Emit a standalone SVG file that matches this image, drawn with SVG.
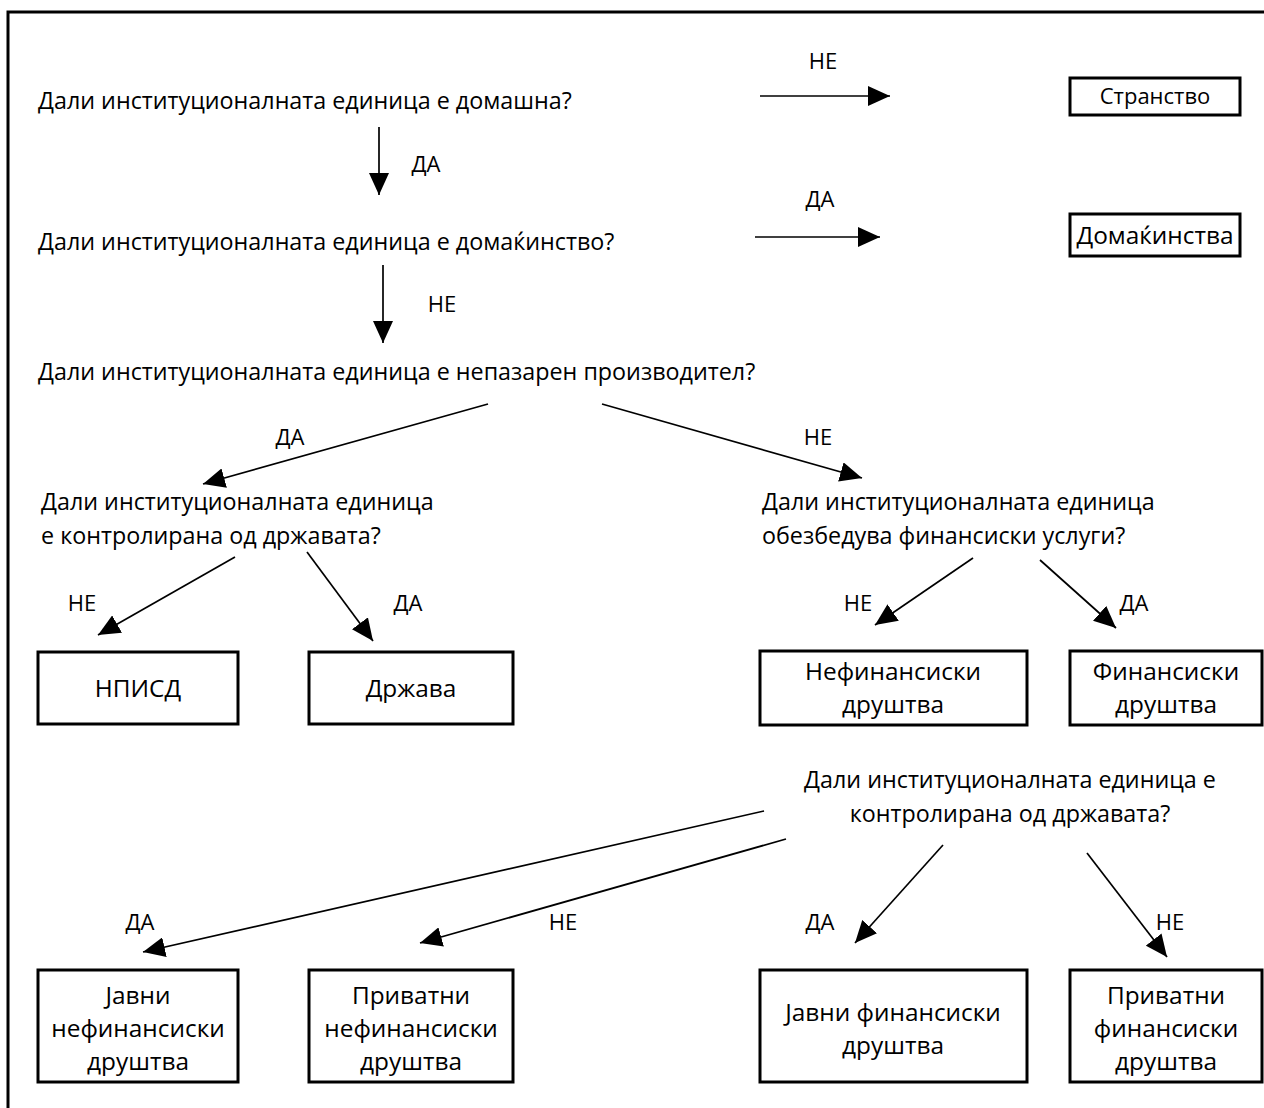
<svg xmlns="http://www.w3.org/2000/svg" width="1264" height="1108" viewBox="0 0 1264 1108">
<defs>
<marker id="ah" markerUnits="userSpaceOnUse" markerWidth="22" markerHeight="20" refX="22" refY="10" orient="auto">
<path d="M0,0 L22,10 L0,20 Z" fill="#000"/>
</marker>
<style>
.q{font-family:"Open Sans","Noto Sans","DejaVu Sans",sans-serif;font-size:23.3px;fill:#000}
.l{font-family:"Open Sans","Noto Sans","DejaVu Sans",sans-serif;font-size:22px;fill:#000;text-anchor:middle}
.b{font-family:"Open Sans","Noto Sans","DejaVu Sans",sans-serif;font-size:24.4px;fill:#000;text-anchor:middle}
.box{fill:#fff;stroke:#000;stroke-width:3}
.c{stroke:#000;stroke-width:1.7;fill:none;marker-end:url(#ah)}
</style>
</defs>
<rect width="1264" height="1108" fill="#fff"/>
<path d="M8,1108 V12 H1264" fill="none" stroke="#000" stroke-width="3"/>

<g id="q1"><text class="q" x="38" y="109">Дали институционалната единица е домашна?</text></g>
<g id="q2"><text class="q" x="38" y="250">Дали институционалната единица е домаќинство?</text></g>
<g id="q3"><text class="q" x="38" y="380">Дали институционалната единица е непазарен производител?</text></g>
<g id="q4"><text class="q" x="41" y="510">Дали институционалната единица</text><text class="q" x="41" y="544">е контролирана од државата?</text></g>
<g id="q5"><text class="q" x="762" y="510">Дали институционалната единица</text><text class="q" x="762" y="544">обезбедува финансиски услуги?</text></g>
<g id="q6"><text class="q" x="1010" y="788" text-anchor="middle">Дали институционалната единица е</text><text class="q" x="1010" y="822" text-anchor="middle">контролирана од државата?</text></g>

<g id="n-stranstvo"><rect class="box" x="1070" y="78" width="170" height="37"/><text class="l" x="1155" y="104">Странство</text></g>
<g id="n-domakinstva"><rect class="box" x="1070" y="214" width="170" height="42"/><text class="b" x="1155" y="244">Домаќинства</text></g>
<g id="n-npisd"><rect class="box" x="38" y="652" width="200" height="72"/><text class="b" x="138" y="697">НПИСД</text></g>
<g id="n-drzava"><rect class="box" x="309" y="652" width="204" height="72"/><text class="b" x="411" y="697">Држава</text></g>
<g id="n-nefin"><rect class="box" x="760" y="651" width="267" height="74"/><text class="b" x="893" y="680">Нефинансиски</text><text class="b" x="893" y="713">друштва</text></g>
<g id="n-fin"><rect class="box" x="1070" y="651" width="192" height="74"/><text class="b" x="1166" y="680">Финансиски</text><text class="b" x="1166" y="713">друштва</text></g>
<g id="n-javni-nefin"><rect class="box" x="38" y="970" width="200" height="112"/><text class="b" x="138" y="1004">Јавни</text><text class="b" x="138" y="1037">нефинансиски</text><text class="b" x="138" y="1070">друштва</text></g>
<g id="n-priv-nefin"><rect class="box" x="309" y="970" width="204" height="112"/><text class="b" x="411" y="1004">Приватни</text><text class="b" x="411" y="1037">нефинансиски</text><text class="b" x="411" y="1070">друштва</text></g>
<g id="n-javni-fin"><rect class="box" x="760" y="970" width="267" height="112"/><text class="b" x="893" y="1021">Јавни финансиски</text><text class="b" x="893" y="1054">друштва</text></g>
<g id="n-priv-fin"><rect class="box" x="1070" y="970" width="192" height="112"/><text class="b" x="1166" y="1004">Приватни</text><text class="b" x="1166" y="1037">финансиски</text><text class="b" x="1166" y="1070">друштва</text></g>

<g id="connectors">
<line class="c" x1="760" y1="96" x2="890" y2="96"/>
<text class="l" x="823" y="69">НЕ</text>
<line class="c" x1="379" y1="127" x2="379" y2="195"/>
<text class="l" x="426" y="172">ДА</text>
<line class="c" x1="755" y1="237" x2="880" y2="237"/>
<text class="l" x="820" y="207">ДА</text>
<line class="c" x1="383" y1="265" x2="383" y2="343"/>
<text class="l" x="442" y="312">НЕ</text>
<line class="c" x1="488" y1="404" x2="203" y2="484"/>
<text class="l" x="290" y="445">ДА</text>
<line class="c" x1="602" y1="404" x2="862" y2="478"/>
<text class="l" x="818" y="445">НЕ</text>
<line class="c" x1="235" y1="557" x2="98" y2="635"/>
<text class="l" x="82" y="611">НЕ</text>
<line class="c" x1="307" y1="552" x2="373" y2="641"/>
<text class="l" x="408" y="611">ДА</text>
<line class="c" x1="973" y1="558" x2="875" y2="625"/>
<text class="l" x="858" y="611">НЕ</text>
<line class="c" x1="1040" y1="560" x2="1116" y2="628"/>
<text class="l" x="1134" y="611">ДА</text>
<line class="c" x1="764" y1="811" x2="143" y2="952"/>
<text class="l" x="140" y="930">ДА</text>
<line class="c" x1="786" y1="839" x2="420" y2="943"/>
<text class="l" x="563" y="930">НЕ</text>
<line class="c" x1="943" y1="845" x2="855" y2="943"/>
<text class="l" x="820" y="930">ДА</text>
<line class="c" x1="1087" y1="853" x2="1167" y2="957"/>
<text class="l" x="1170" y="930">НЕ</text>
</g>
</svg>
